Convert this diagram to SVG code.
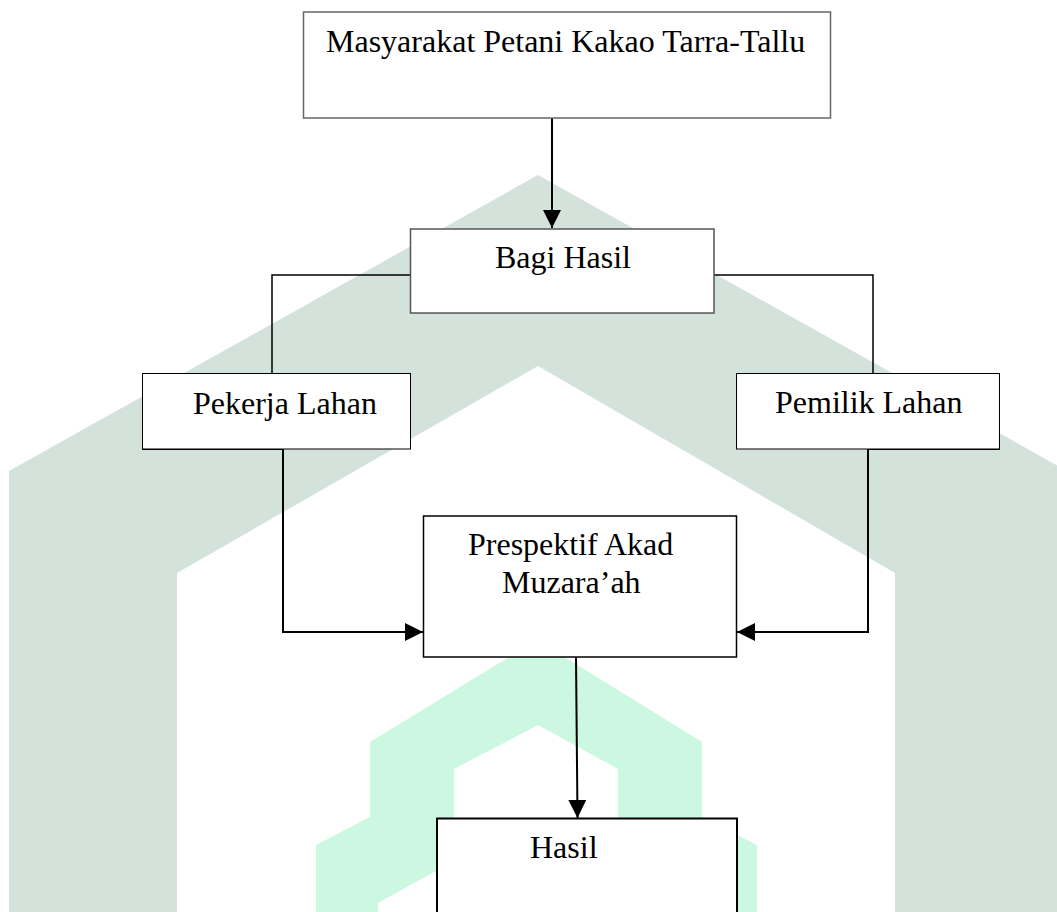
<svg xmlns="http://www.w3.org/2000/svg" width="1057" height="912" viewBox="0 0 1057 912">
<style>
.bx{fill:#fff;stroke:#000;stroke-width:1.5}
.t{font-family:"Liberation Serif","Times New Roman",serif;font-size:32px;fill:#000}
.ln{fill:none;stroke:#000;stroke-width:2}
.thin{fill:none;stroke:#000;stroke-width:1.5}
</style>
<defs>
<marker id="ah" markerUnits="userSpaceOnUse" markerWidth="18" markerHeight="18" viewBox="0 0 16 16" refX="16" refY="8" orient="auto">
<path d="M0,0 L16,8 L0,16 Z" fill="#000"/>
</marker>
</defs>
<rect width="1057" height="912" fill="#fff"/>
<g id="watermark">
<path d="M9,912 V471 L538,175 L1067,471 V912 H895 V573 L538,366 L177,573 V912 Z" fill="#d4e2dc"/>
<path fill-rule="evenodd" d="M316,912 V845 L370,817 V742 L537,640 L702,742 V817 L757,845 V912 Z M378,912 V903 L454,861 V769 L538,725 L618,769 V861 L696,903 V912 Z" fill="#ccf8e2"/>
</g>
<g id="connectors">
<line class="ln" x1="552" y1="118" x2="552" y2="228" marker-end="url(#ah)"/>
<path class="thin" d="M410,275 H272 V373"/>
<path class="thin" d="M714,275 H873 V373"/>
<path class="ln" d="M142,449 H283 V632 H423" marker-end="url(#ah)"/>
<path class="ln" d="M1000,449 H868 V632 H737" marker-end="url(#ah)"/>
<line class="ln" x1="576" y1="657" x2="577.5" y2="818" marker-end="url(#ah)"/>
</g>
<g id="n1">
<rect class="bx" x="303.5" y="12" width="527" height="106" style="stroke:#666"/>
<text class="t" x="326" y="52">Masyarakat Petani Kakao Tarra-Tallu</text>
</g>
<g id="n2">
<rect class="bx" x="410.5" y="229" width="303.5" height="84" style="stroke:#555"/>
<text class="t" x="495" y="268">Bagi Hasil</text>
</g>
<g id="n3">
<rect class="bx" x="142.5" y="373.5" width="268" height="75.5" style="stroke-width:1"/>
<text class="t" x="193" y="414">Pekerja Lahan</text>
</g>
<g id="n4">
<rect class="bx" x="736.5" y="373.5" width="263" height="75.5" style="stroke-width:1"/>
<text class="t" x="775" y="413">Pemilik Lahan</text>
</g>
<g id="n5">
<rect class="bx" x="423.5" y="516" width="313" height="141"/>
<text class="t" x="468" y="555">Prespektif Akad</text>
<text class="t" x="502" y="593">Muzara’ah</text>
</g>
<g id="n6">
<rect class="bx" x="437" y="818.5" width="300" height="110" style="stroke-width:2"/>
<text class="t" x="530" y="858">Hasil</text>
</g>
</svg>
